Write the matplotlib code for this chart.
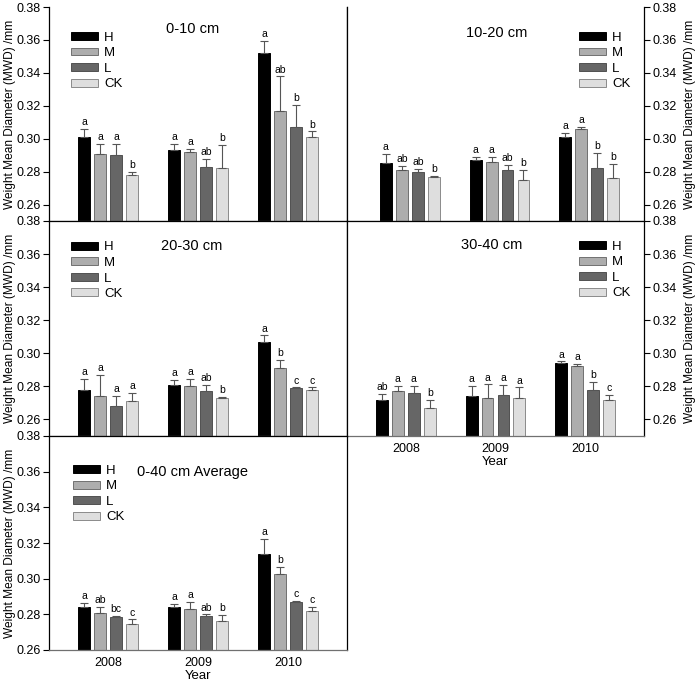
import matplotlib
matplotlib.use("Agg")
import matplotlib.pyplot as plt

plt.rcParams['font.family'] = ['Liberation Sans', 'DejaVu Sans']

years = ["2008", "2009", "2010"]
treatments = ["H", "M", "L", "CK"]
colors = ["#000000", "#adadad", "#666666", "#dedede"]
edges = ["#000000", "#707070", "#505050", "#8a8a8a"]

# 0-10 cm
top_h = [0.301, 0.293, 0.352]
top_m = [0.291, 0.292, 0.317]
top_l = [0.290, 0.283, 0.307]
top_ck = [0.278, 0.282, 0.301]
top_err_h = [0.0050, 0.0040, 0.0074]
top_err_m = [0.0058, 0.0018, 0.0209]
top_err_l = [0.0070, 0.0047, 0.0137]
top_err_ck = [0.0020, 0.0144, 0.0035]
top_let_h = ["a", "a", "a"]
top_let_m = ["a", "a", "ab"]
top_let_l = ["a", "ab", "b"]
top_let_ck = ["b", "b", "b"]

# 10-20 cm
sec_h = [0.285, 0.287, 0.301]
sec_m = [0.281, 0.286, 0.306]
sec_l = [0.280, 0.281, 0.282]
sec_ck = [0.277, 0.275, 0.276]
sec_err_h = [0.0058, 0.0020, 0.0025]
sec_err_m = [0.0026, 0.0030, 0.0013]
sec_err_l = [0.0016, 0.0030, 0.0093]
sec_err_ck = [0.0004, 0.0062, 0.0087]
sec_let_h = ["a", "a", "a"]
sec_let_m = ["ab", "a", "a"]
sec_let_l = ["ab", "ab", "b"]
sec_let_ck = ["b", "b", "b"]

# 20-30 cm
mid_h = [0.278, 0.281, 0.307]
mid_m = [0.274, 0.280, 0.291]
mid_l = [0.268, 0.277, 0.279]
mid_ck = [0.271, 0.273, 0.278]
mid_err_h = [0.0064, 0.0030, 0.0038]
mid_err_m = [0.0131, 0.0046, 0.0051]
mid_err_l = [0.0062, 0.0040, 0.0004]
mid_err_ck = [0.0050, 0.0006, 0.0014]
mid_let_h = ["a", "a", "a"]
mid_let_m = ["a", "a", "b"]
mid_let_l = ["a", "ab", "c"]
mid_let_ck = ["a", "b", "c"]

# 30-40 cm
deep_h = [0.272, 0.274, 0.294]
deep_m = [0.277, 0.273, 0.2923]
deep_l = [0.276, 0.275, 0.278]
deep_ck = [0.267, 0.273, 0.272]
deep_err_h = [0.0035, 0.0065, 0.0011]
deep_err_m = [0.0032, 0.0083, 0.0014]
deep_err_l = [0.0042, 0.0061, 0.0047]
deep_err_ck = [0.0049, 0.0065, 0.0028]
deep_let_h = ["ab", "a", "a"]
deep_let_m = ["a", "a", "a"]
deep_let_l = ["a", "a", "b"]
deep_let_ck = ["b", "a", "c"]

# 0-40 cm average
avg_h = [0.284, 0.284, 0.314]
avg_m = [0.281, 0.2832, 0.3026]
avg_l = [0.2783, 0.2793, 0.2871]
avg_ck = [0.2744, 0.276, 0.2821]
avg_err_h = [0.0023, 0.0019, 0.0084]
avg_err_m = [0.0032, 0.0039, 0.0041]
avg_err_l = [0.0008, 0.0007, 0.0005]
avg_err_ck = [0.0028, 0.0036, 0.0022]
avg_let_h = ["a", "a", "a"]
avg_let_m = ["ab", "a", "b"]
avg_let_l = ["bc", "ab", "c"]
avg_let_ck = ["c", "b", "c"]

YLABEL = "Weight Mean Diameter (MWD) /mm"
W = 697
H = 682


def px_axes(fig, x0, y0, x1, y1):
    # pixel box (top-left origin) -> figure axes
    return fig.add_axes([x0 / W, 1 - y1 / H, (x1 - x0) / W, (y1 - y0) / H])


def plot_panel(ax, title, means, errs, lets, ymin, right=False, xlabels=False,
               title_pos=(0.48, 0.89), leg_pos=(0.07, 0.885), xshift=0.0):
    bw = 0.133
    step = 0.178
    xs = list(range(len(years)))
    handles = []
    for k in range(len(treatments)):
        pos = [x + (k - 1.5) * step for x in xs]
        heights = [m - ymin for m in means[k]]
        b = ax.bar(pos, heights, bw, bottom=ymin, color=colors[k],
                   edgecolor=edges[k], linewidth=0.7, label=treatments[k],
                   zorder=2)
        handles.append(b)
        ax.errorbar(pos, means[k], yerr=[[0] * 3, errs[k]], fmt="none",
                    ecolor="#555555", elinewidth=0.8, capsize=2.6,
                    capthick=0.8, zorder=3)
        for p, m, e, t in zip(pos, means[k], errs[k], lets[k]):
            ax.annotate(t, (p, m + e), xytext=(0, 1.2),
                        textcoords="offset points", ha="center", va="bottom",
                        fontsize=7.5)
    ax.set_ylim(ymin, 0.38)
    ax.set_xlim(-0.655 + xshift, 2.655 + xshift)
    ax.set_yticks([0.26, 0.28, 0.30, 0.32, 0.34, 0.36, 0.38])
    ax.set_yticklabels(["%.2f" % v for v in ax.get_yticks()], fontsize=9)
    ax.tick_params(axis="y", direction="out", length=4, width=0.8, pad=2)
    ax.tick_params(axis="x", length=0, pad=5)
    if xlabels:
        ax.set_xticks(xs)
        ax.set_xticklabels(years, fontsize=9)
        ax.set_xlabel("Year", fontsize=9.5, labelpad=1)
    else:
        ax.set_xticks([])
    ax.set_ylabel(YLABEL, fontsize=8.6, va="center")
    if right:
        ax.yaxis.tick_right()
        ax.yaxis.set_label_position("right")
        ax.yaxis.set_label_coords(1.133, 0.5)
    else:
        ax.yaxis.set_label_coords(-0.13, 0.5)
    for s in ax.spines.values():
        s.set_linewidth(0.9)
    ax.spines["bottom"].set_color("#707070")
    ax.text(title_pos[0], title_pos[1], title, transform=ax.transAxes,
            ha="center", va="center", fontsize=10.5)
    ax.legend(handles=handles, loc="upper left", bbox_to_anchor=leg_pos,
              frameon=False, fontsize=9.5, handlelength=2.05,
              handleheight=0.55, handletextpad=0.45, labelspacing=0.27,
              borderpad=0, borderaxespad=0)


fig = plt.figure(figsize=(W / 100, H / 100), dpi=100)

ax1 = px_axes(fig, 49, 7, 347, 221)
plot_panel(ax1, "0-10 cm", [top_h, top_m, top_l, top_ck],
           [top_err_h, top_err_m, top_err_l, top_err_ck],
           [top_let_h, top_let_m, top_let_l, top_let_ck], 0.25,
           title_pos=(0.483, 0.897), leg_pos=(0.074, 0.885))
ax1.spines["top"].set_visible(False)

ax2 = px_axes(fig, 347, 7, 644, 221)
plot_panel(ax2, "10-20 cm", [sec_h, sec_m, sec_l, sec_ck],
           [sec_err_h, sec_err_m, sec_err_l, sec_err_ck],
           [sec_let_h, sec_let_m, sec_let_l, sec_let_ck], 0.25, right=True,
           title_pos=(0.505, 0.879), leg_pos=(0.781, 0.885), xshift=-0.045)
ax2.spines["top"].set_visible(False)

ax3 = px_axes(fig, 49, 221, 347, 436)
plot_panel(ax3, "20-30 cm", [mid_h, mid_m, mid_l, mid_ck],
           [mid_err_h, mid_err_m, mid_err_l, mid_err_ck],
           [mid_let_h, mid_let_m, mid_let_l, mid_let_ck], 0.25,
           title_pos=(0.48, 0.883), leg_pos=(0.074, 0.905))

ax4 = px_axes(fig, 347, 221, 644, 436)
plot_panel(ax4, "30-40 cm", [deep_h, deep_m, deep_l, deep_ck],
           [deep_err_h, deep_err_m, deep_err_l, deep_err_ck],
           [deep_let_h, deep_let_m, deep_let_l, deep_let_ck], 0.25,
           right=True, xlabels=True, title_pos=(0.488, 0.888),
           leg_pos=(0.781, 0.908))

ax5 = px_axes(fig, 49, 436, 347, 650)
plot_panel(ax5, "0-40 cm Average", [avg_h, avg_m, avg_l, avg_ck],
           [avg_err_h, avg_err_m, avg_err_l, avg_err_ck],
           [avg_let_h, avg_let_m, avg_let_l, avg_let_ck], 0.26,
           xlabels=True, title_pos=(0.483, 0.832), leg_pos=(0.081, 0.866))

fig.savefig("out.png", dpi=100)
